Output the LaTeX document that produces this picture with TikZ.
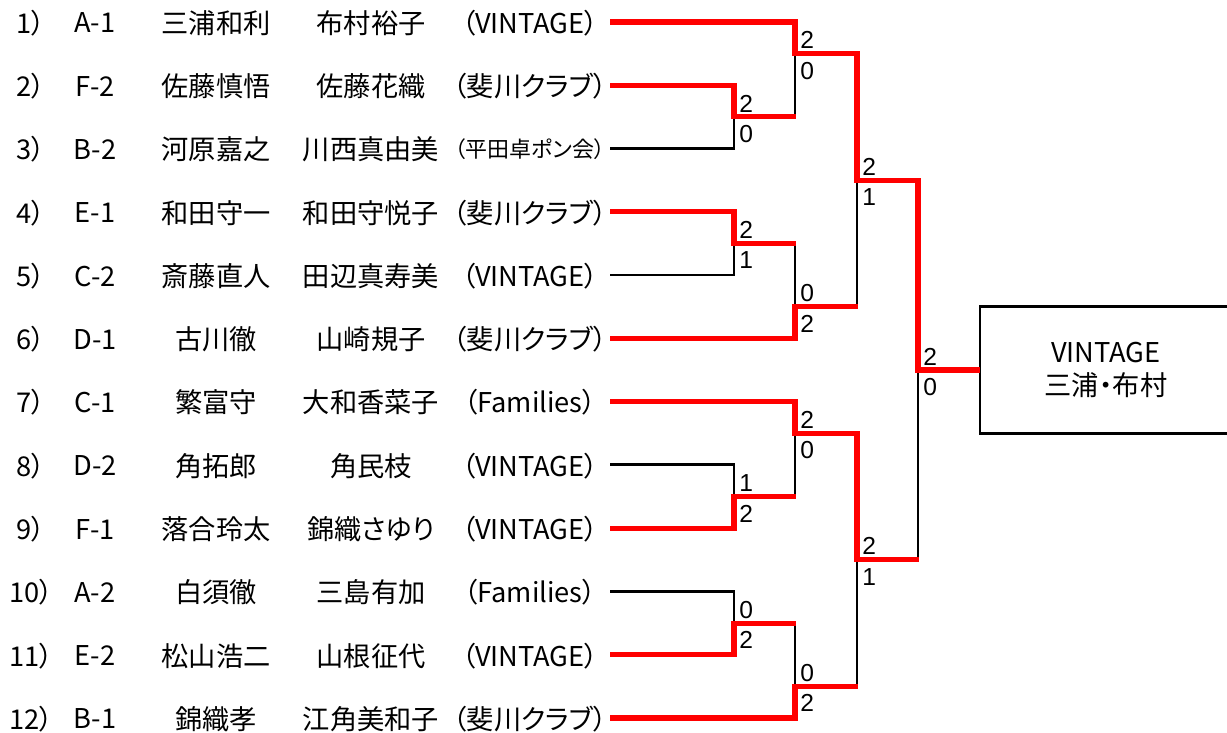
\documentclass[tikz,border=0pt]{standalone}
\usepackage{fontspec}
\setmainfont{Noto Sans CJK JP}[RawFeature=+palt]
\newfontfamily\scorefont{Liberation Sans}
\newcommand\grpsmall{\fontsize{12.5}{12.5}\selectfont}
\begin{document}
\begin{tikzpicture}[x=0.02cm,y=-0.02cm,
		txt/.style={inner sep=0pt,font=\fontsize{15.5}{15.5}\selectfont},
		pt/.style={inner sep=0pt,font=\scorefont\fontsize{14}{14}\selectfont},
		lost/.style={line width=1.6pt,black},
		won/.style={line width=2.9pt,red,line join=miter,shorten >=-0.8pt},
		champbox/.style={draw,line width=1.6pt,inner sep=0pt,align=center,
			minimum width=5.04cm,minimum height=2.526cm,
			font=\fontsize{15.5}{18.7}\selectfont}]
	\useasboundingbox (0,0) rectangle (1227,733);
	%Danh sách
	\foreach \i/\no/\cd/\pa/\pb/\gp in {
		1/1）/A-1/三浦和利/布村裕子/（VINTAGE）,
		2/2）/F-2/佐藤慎悟/佐藤花織/（斐川クラブ）,
		3/3）/B-2/河原嘉之/川西真由美/{\grpsmall（平田卓ポン会）},
		4/4）/E-1/和田守一/和田守悦子/（斐川クラブ）,
		5/5）/C-2/斎藤直人/田辺真寿美/（VINTAGE）,
		6/6）/D-1/古川徹/山崎規子/（斐川クラブ）,
		7/7）/C-1/繁富守/大和香菜子/（Families）,
		8/8）/D-2/角拓郎/角民枝/（VINTAGE）,
		9/9）/F-1/落合玲太/錦織さゆり/（VINTAGE）,
		10/10）/A-2/白須徹/三島有加/（Families）,
		11/11）/E-2/松山浩二/山根征代/（VINTAGE）,
		12/12）/B-1/錦織孝/江角美和子/（斐川クラブ）}{
		\pgfmathsetmacro\ry{22+63.27*(\i-1)}
		\node[txt] (no\i) at (31,\ry+1) {\no};
		\node[txt] (cd\i) at (95,\ry+1) {\cd};
		\node[txt] (pa\i) at (216,\ry+1) {\pa};
		\node[txt] (pb\i) at (371,\ry+1) {\pb};
		\node[txt] (gp\i) at (530,\ry+1) {\gp};
		\coordinate (r\i) at (610,\ry);
	}
	%Ô thắng
	\node[champbox] (champ) at (1106,370) {VINTAGE\\三浦・布村};
	%Các trận + tỉ số
	\foreach \m/\x/\y/\t/\b in {A/734/116.9/2/0, B/734/243.4/2/1, C/734/496.5/1/2,
		D/734/623.1/0/2, E/795/53.6/2/0, F/795/306.7/0/2, G/795/433.3/2/0,
		H/795/686.3/0/2, I/857/180.2/2/1, J/857/559.8/2/1, K/918/370/2/0}{
		\coordinate (m\m) at (\x,\y);
		\node[pt,anchor=south west] (s\m t) at ([shift={(5,-4.5)}]m\m) {\t};
		\node[pt,anchor=north west] (s\m b) at ([shift={(5,8)}]m\m) {\b};
	}
	%Nhánh thua
	\draw[lost] (r3) -| (mA);
	\draw[lost] (r5) -| (mB);
	\draw[lost] (r8) -| (mC);
	\draw[lost] (r10) -| (mD);
	\draw[lost] (mE |- mA) -- (mE);
	\draw[lost] (mF |- mB) -- (mF);
	\draw[lost] (mG |- mC) -- (mG);
	\draw[lost] (mH |- mD) -- (mH);
	\draw[lost] (mI |- mF) -- (mI);
	\draw[lost] (mJ |- mH) -- (mJ);
	\draw[lost] (mK |- mJ) -- (mK);
	%Nhánh thắng
	\draw[won] (r1) -| (mE) -| (mI) -| (mK) -- (champ.west);
	\draw[won] (r2) -| (mA) -- (mA -| mE);
	\draw[won] (r4) -| (mB) -- (mB -| mF);
	\draw[won] (r6) -| (mF) -- (mF -| mI);
	\draw[won] (r7) -| (mG) -| (mJ) -- (mJ -| mK);
	\draw[won] (r9) -| (mC) -- (mC -| mG);
	\draw[won] (r11) -| (mD) -- (mD -| mH);
	\draw[won] (r12) -| (mH) -- (mH -| mJ);
\end{tikzpicture}
\end{document}
